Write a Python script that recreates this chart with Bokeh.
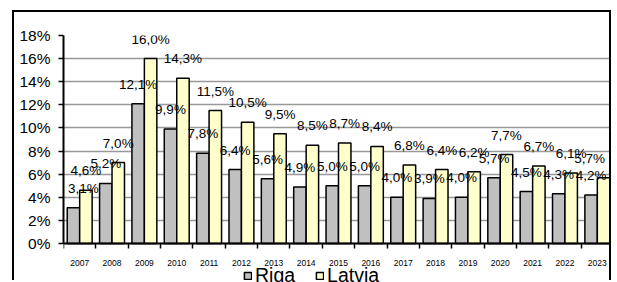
from bokeh.plotting import figure
from bokeh.models import (Range1d, FixedTicker, PrintfTickFormatter, ColumnDataSource,
                          Legend, LegendItem, LabelSet)
from bokeh.transform import dodge
from bokeh.core.properties import value
from bokeh.embed import file_html
from bokeh.resources import INLINE

# ---- data ----
years = ["2007", "2008", "2009", "2010", "2011", "2012", "2013", "2014", "2015",
         "2016", "2017", "2018", "2019", "2020", "2021", "2022", "2023"]
riga = [3.1, 5.2, 12.1, 9.9, 7.8, 6.4, 5.6, 4.9, 5.0, 5.0, 4.0, 3.9, 4.0, 5.7, 4.5, 4.3, 4.2]
latvia = [4.6, 7.0, 16.0, 14.3, 11.5, 10.5, 9.5, 8.5, 8.7, 8.4, 6.8, 6.4, 6.2, 7.7, 6.7, 6.1, 5.7]
series_names = ["Riga", "Latvia"]
y_ticks = [0, 2, 4, 6, 8, 10, 12, 14, 16, 18]

FONT = "Liberation Sans"
GREY = "#C0C0C0"
YELLOW = "#FFFFCC"


def fmt(v):
    return f"{v:.1f}".replace(".", ",") + "%"


n = len(years)
idx = list(range(n))
# keep the first and last labels inside the plot edges
riga_dx = [10] + [0] * (n - 1)
lat_dx = [0] * (n - 1) + [-14]
src = ColumnDataSource(dict(
    x=idx, riga=riga, latvia=latvia,
    riga_lbl=[fmt(v) for v in riga], latvia_lbl=[fmt(v) for v in latvia],
    riga_dx=riga_dx, latvia_dx=lat_dx,
))

# frame runs down to the canvas bottom; the space below 0 holds axis labels + legend
y_lo = -3.375
p = figure(width=599, height=270, output_backend="svg", toolbar_location=None,
           x_range=Range1d(-0.5, n - 0.5), y_range=Range1d(y_lo, y_ticks[-1]),
           min_border_left=49, min_border_right=0, min_border_top=23, min_border_bottom=0)
p.styles = {"border-top": "2px solid black", "border-left": "2px solid black",
            "border-right": "2px solid black", "margin-left": "12px", "margin-top": "10px"}
p.outline_line_color = None
p.background_fill_color = "white"

bw = 0.385
off = 0.1925
r1 = p.vbar(x=dodge("x", -off, range=p.x_range), top="riga", width=bw, source=src,
            fill_color=GREY, line_color="black", line_width=1.5)
r2 = p.vbar(x=dodge("x", off, range=p.x_range), top="latvia", width=bw, source=src,
            fill_color=YELLOW, line_color="black", line_width=1.5)

for col, lbl, o, dx in (("riga", "riga_lbl", -off, "riga_dx"),
                        ("latvia", "latvia_lbl", off, "latvia_dx")):
    p.add_layout(LabelSet(x=dodge("x", o, range=p.x_range), y=col, text=lbl, source=src,
                          text_align="center", text_baseline="alphabetic", y_offset=15,
                          x_offset=dx,
                          text_font=value(FONT), text_font_size=value("13.5px"),
                          text_color="black"))

# y axis
p.yaxis.ticker = FixedTicker(ticks=y_ticks)
p.yaxis.bounds = (y_ticks[0], y_ticks[-1])
p.yaxis.formatter = PrintfTickFormatter(format="%d%%")
p.yaxis.major_label_text_font = FONT
p.yaxis.major_label_text_font_size = "15.5px"
p.yaxis.major_label_text_color = "black"
p.yaxis.axis_line_width = 2
p.yaxis.axis_line_color = "black"
p.yaxis.major_tick_out = 5
p.yaxis.major_tick_in = 0
p.yaxis.major_tick_line_width = 1.5
p.yaxis.minor_tick_line_color = None
p.yaxis.major_label_standoff = 8

# x axis, drawn at the 0 baseline
p.xaxis.fixed_location = 0
p.xaxis.ticker = FixedTicker(ticks=idx, minor_ticks=[i - 0.5 for i in range(n + 1)])
p.xaxis.major_label_overrides = {i: y for i, y in zip(idx, years)}
p.xaxis.major_tick_line_color = None
p.xaxis.major_tick_out = 0
p.xaxis.major_tick_in = 0
p.xaxis.minor_tick_line_color = "black"
p.xaxis.minor_tick_line_width = 1.5
p.xaxis.minor_tick_out = 5
p.xaxis.minor_tick_in = 0
p.xaxis.axis_line_width = 2
p.xaxis.axis_line_color = "black"
p.xaxis.major_label_text_font = FONT
p.xaxis.major_label_text_font_size = "8.5px"
p.xaxis.major_label_text_color = "black"
p.xaxis.major_label_standoff = 11

p.xgrid.visible = False
p.ygrid.grid_line_color = "#999999"
p.ygrid.grid_line_width = 1.5

legend = Legend(items=[LegendItem(label=series_names[0], renderers=[r1]),
                       LegendItem(label=series_names[1], renderers=[r2])],
                orientation="horizontal", location=(180, -5),
                glyph_width=9, glyph_height=9, label_height=9,
                label_text_font=FONT, label_text_font_size="19.5px",
                label_text_color="black",
                padding=0, margin=0, spacing=20, label_standoff=3,
                border_line_color=None, background_fill_alpha=0)
p.add_layout(legend)

open("out.html", "w").write(file_html(p, INLINE))
